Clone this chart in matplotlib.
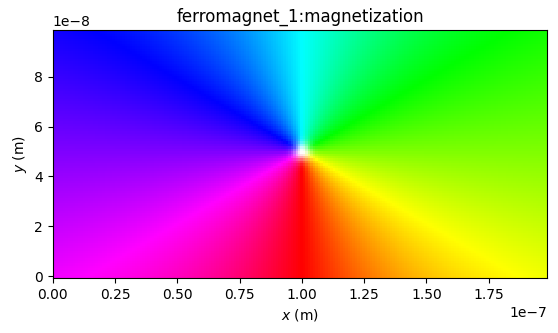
import numpy as np
import matplotlib
matplotlib.use("Agg")
import matplotlib.pyplot as plt
from matplotlib.colors import hsv_to_rgb

# -------- Mesh / vortex parameters --------
x_extent = [0.0, 1.985e-7]
y_extent = [-0.8e-9, 9.88e-8]
n_cells = [200, 100]
core_center = [1.0e-7, 4.98e-8]
core_radius = 3.5e-9
title = "ferromagnet_1:magnetization"

# -------- Build magnetization field --------
xs = np.linspace(x_extent[0], x_extent[1], n_cells[0] + 1)
ys = np.linspace(y_extent[0], y_extent[1], n_cells[1] + 1)
xc = 0.5 * (xs[:-1] + xs[1:])
yc = 0.5 * (ys[:-1] + ys[1:])
X, Y = np.meshgrid(xc, yc)
dx = X - core_center[0]
dy = Y - core_center[1]
r = np.hypot(dx, dy)

mz = np.exp(-(r / core_radius) ** 2)
mx = -dy
my = dx

# -------- HLS colouring: hue = in-plane angle, lightness from mz --------
angle = np.arctan2(my, mx)
hue = (angle / (2 * np.pi)) % 1.0
light = 0.5 + 0.5 * mz
sat = np.ones_like(hue)

# convert HLS -> HSV for hsv_to_rgb
v = light + sat * np.minimum(light, 1 - light)
s = np.where(v > 0, 2 * (1 - light / v), 0)
rgb = hsv_to_rgb(np.dstack([hue, s, v]))

# -------- Plot --------
fig = plt.figure(figsize=(5.58, 3.33), dpi=100)
ax = fig.add_axes([0.0932, 0.165, 0.889, 0.745])
ax.imshow(rgb, origin="lower", interpolation="nearest",
          extent=[x_extent[0], x_extent[1], y_extent[0], y_extent[1]])
ax.set_xlabel("$x$ (m)")
ax.set_ylabel("$y$ (m)")
ax.set_title(title)
ax.set_xticks(np.arange(0, 2.0e-7, 0.25e-7))
ax.set_yticks(np.arange(0, 1.0e-7, 2e-8))

fig.savefig("out.png", dpi=100)
plt.close(fig)
